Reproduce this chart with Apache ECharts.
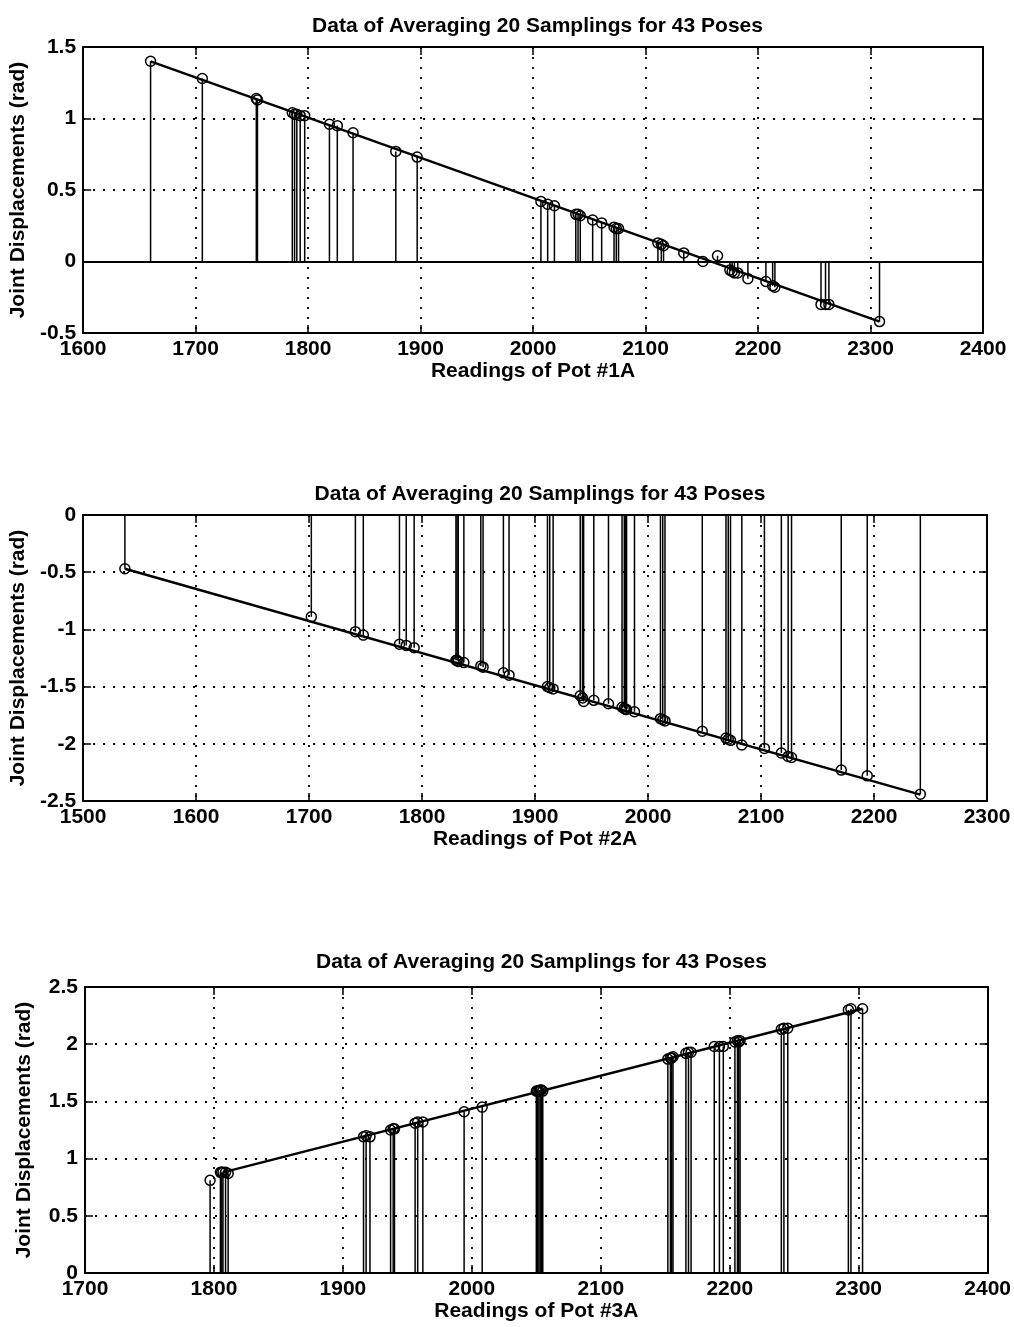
<!DOCTYPE html>
<html>
<head>
<meta charset="utf-8">
<title>Data of Averaging 20 Samplings for 43 Poses</title>
<script src="https://cdn.jsdelivr.net/npm/echarts@6/dist/echarts.min.js"></script>
<style>
  html, body { margin: 0; background: #fff; }
  #chart { width: 1014px; height: 1327px; }
</style>
</head>
<body>
<div id="chart"></div>
<script>
// readings of pot #1A and joint displacements (rad)
const pot1X = [1660, 1706, 1754, 1755, 1786, 1788, 1790, 1793, 1797, 1819, 1826, 1840, 1878, 1897,
  2007, 2013, 2019, 2038, 2040, 2042, 2053, 2061, 2072, 2074, 2076, 2111, 2114, 2116, 2134, 2151,
  2164, 2175, 2177, 2179, 2182, 2191, 2207, 2213, 2215, 2256, 2260, 2263, 2308]
const pot1Y = [1.40, 1.28, 1.14, 1.13, 1.04, 1.03, 1.03, 1.02, 1.02, 0.96, 0.95, 0.90, 0.77, 0.73,
  0.42, 0.40, 0.39, 0.33, 0.33, 0.32, 0.29, 0.27, 0.24, 0.23, 0.23, 0.13, 0.12, 0.11, 0.06, 0.00,
  0.04, -0.06, -0.07, -0.08, -0.08, -0.12, -0.14, -0.17, -0.18, -0.30, -0.30, -0.30, -0.42]

// pot #2A
const pot2X = [1537, 1702, 1741, 1748, 1780, 1786, 1793, 1830, 1831, 1832, 1837, 1852, 1854, 1872,
  1877, 1911, 1913, 1916, 1940, 1942, 1943, 1952, 1965, 1977, 1979, 1980, 1981, 1988, 2011, 2013,
  2015, 2048, 2069, 2071, 2073, 2083, 2103, 2118, 2124, 2127, 2171, 2194, 2241]
const pot2Y = [-0.47, -0.89, -1.02, -1.05, -1.13, -1.14, -1.16, -1.27, -1.27, -1.28, -1.29, -1.32, -1.33, -1.38,
  -1.40, -1.50, -1.51, -1.52, -1.58, -1.60, -1.63, -1.62, -1.65, -1.68, -1.69, -1.70, -1.70, -1.72, -1.78, -1.79,
  -1.80, -1.89, -1.95, -1.96, -1.97, -2.01, -2.04, -2.08, -2.11, -2.12, -2.23, -2.28, -2.44]

// pot #3A
const pot3X = [1797, 1805, 1806, 1807, 1809, 1811, 1916, 1918, 1921, 1937, 1939, 1940, 1956, 1958,
  1962, 1994, 2008, 2050, 2051, 2052, 2053, 2054, 2055, 2152, 2154, 2155, 2156, 2166, 2168, 2170,
  2188, 2192, 2195, 2204, 2206, 2207, 2208, 2240, 2242, 2245, 2292, 2294, 2303]
const pot3Y = [0.81, 0.88, 0.88, 0.88, 0.88, 0.87, 1.19, 1.20, 1.19, 1.25, 1.26, 1.26, 1.31, 1.32,
  1.32, 1.41, 1.45, 1.59, 1.59, 1.59, 1.60, 1.60, 1.59, 1.87, 1.88, 1.88, 1.89, 1.92, 1.93, 1.93,
  1.98, 1.98, 1.98, 2.02, 2.03, 2.02, 2.03, 2.13, 2.14, 2.14, 2.30, 2.31, 2.31]

// fitted straight lines, end points
const fit1X = [1660, 2308]
const fit1Y = [1.40, -0.42]
const fit2X = [1537, 2241]
const fit2Y = [-0.47, -2.445]
const fit3X = [1807, 2303]
const fit3Y = [0.88, 2.31]

const titleText = 'Data of Averaging 20 Samplings for 43 Poses'
const yName = 'Joint Displacements (rad)'
const xNames = ['Readings of Pot #1A', 'Readings of Pot #2A', 'Readings of Pot #3A']

const xMins = [1600, 1500, 1700]
const xMaxs = [2400, 2300, 2400]
const yMins = [-0.5, -2.5, 0]
const yMaxs = [1.5, 0, 2.5]

const font = "'Liberation Sans', Arial, Helvetica, sans-serif"
const grids = [
  { left: 82, top: 47, width: 901, height: 286 },
  { left: 83, top: 515, width: 904, height: 286 },
  { left: 85, top: 987, width: 903, height: 286 }
]
const titleTops = [11, 479, 947]

const zip = (xs, ys) => xs.map((x, i) => [x, ys[i]])

const stemItem = (params, api) => {
  const tip = api.coord([api.value(0), api.value(1)])
  const base = api.coord([api.value(0), 0])
  return {
    type: 'group',
    children: [
      {
        type: 'line',
        shape: { x1: base[0], y1: base[1], x2: tip[0], y2: tip[1] },
        style: { stroke: '#000', lineWidth: 1.5 }
      },
      {
        type: 'circle',
        shape: { cx: tip[0], cy: tip[1], r: 5 },
        style: { fill: 'none', stroke: '#000', lineWidth: 1.5 }
      }
    ]
  }
}

const dataX = [pot1X, pot2X, pot3X]
const dataY = [pot1Y, pot2Y, pot3Y]
const fitX = [fit1X, fit2X, fit3X]
const fitY = [fit1Y, fit2Y, fit3Y]

const labelStyle = { color: '#000', fontSize: 21, fontWeight: 'bold', fontFamily: font }
const tickStyle = { show: true, inside: true, length: 8, lineStyle: { color: '#000', width: 1.5 } }
const frameLine = { show: true, onZero: false, lineStyle: { color: '#000', width: 2 } }
const gridLine = { show: true, lineStyle: { color: '#000', width: 1.8, type: [2, 8] } }
const plain = v => String(v)

const xAxis = []
const yAxis = []
const series = []
const title = []

grids.forEach((g, i) => {
  title.push({
    text: titleText,
    left: g.left + g.width / 2,
    top: titleTops[i],
    textAlign: 'center',
    textStyle: { color: '#000', fontSize: 21, fontWeight: 'bold', fontFamily: font }
  })
  // bottom axis with labels and grid, plus a bare top axis for the box ticks
  xAxis.push({
    type: 'value', gridIndex: i, position: 'bottom',
    min: xMins[i], max: xMaxs[i], interval: 100,
    name: xNames[i], nameLocation: 'middle', nameGap: 28,
    nameTextStyle: labelStyle,
    axisLine: frameLine, axisTick: tickStyle,
    axisLabel: Object.assign({ margin: 6, formatter: plain }, labelStyle),
    splitLine: gridLine
  })
  xAxis.push({
    type: 'value', gridIndex: i, position: 'top',
    min: xMins[i], max: xMaxs[i], interval: 100,
    axisLine: frameLine, axisTick: tickStyle,
    axisLabel: { show: false }, splitLine: { show: false }
  })
  yAxis.push({
    type: 'value', gridIndex: i, position: 'left',
    min: yMins[i], max: yMaxs[i], interval: 0.5,
    name: yName, nameLocation: 'middle', nameGap: 50,
    nameTextStyle: labelStyle,
    axisLine: frameLine, axisTick: tickStyle,
    axisLabel: Object.assign({ margin: 7, formatter: plain }, labelStyle),
    splitLine: gridLine
  })
  yAxis.push({
    type: 'value', gridIndex: i, position: 'right',
    min: yMins[i], max: yMaxs[i], interval: 0.5,
    axisLine: frameLine, axisTick: tickStyle,
    axisLabel: { show: false }, splitLine: { show: false }
  })

  series.push({
    type: 'custom',
    xAxisIndex: i * 2, yAxisIndex: i * 2,
    renderItem: stemItem,
    data: zip(dataX[i], dataY[i]),
    z: 3,
    silent: true
  })
  series.push({
    type: 'line',
    xAxisIndex: i * 2, yAxisIndex: i * 2,
    data: zip(fitX[i], fitY[i]),
    symbol: 'none',
    lineStyle: { color: '#000', width: 2.4 },
    z: 4,
    silent: true,
    markLine: {
      silent: true,
      symbol: 'none',
      label: { show: false },
      lineStyle: { color: '#000', width: 1.8, type: 'solid' },
      data: [{ yAxis: 0 }]
    }
  })
})

const chart = echarts.init(document.getElementById('chart'))
chart.setOption({
  backgroundColor: '#fff',
  animation: false,
  title: title,
  grid: grids,
  xAxis: xAxis,
  yAxis: yAxis,
  series: series
})

window.addEventListener('resize', () => chart.resize())
</script>
</body>
</html>
